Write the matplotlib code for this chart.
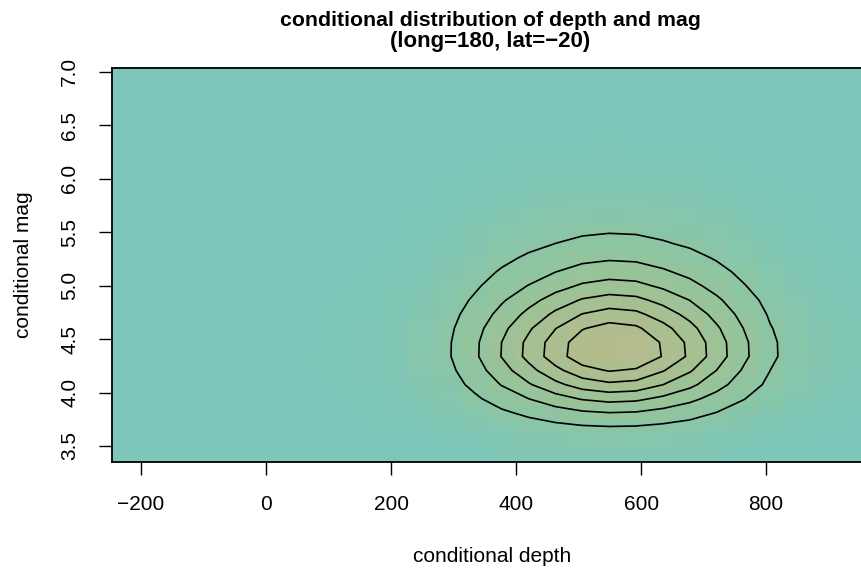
import matplotlib
matplotlib.use("Agg")
import matplotlib.pyplot as plt
import numpy as np
from matplotlib.colors import LinearSegmentedColormap
from matplotlib.ticker import FormatStrFormatter

plt.rcParams['font.family'] = ['Liberation Sans', 'DejaVu Sans']

# grid of the conditional density (cell centres)
depth_grid = [-225, -182, -139, -96, -53, -10, 33, 76, 119, 162, 205, 248, 291, 334,
              377, 420, 463, 506, 549, 592, 635, 678, 721, 764, 807, 850, 893, 936]
mag_grid = [3.416, 3.548, 3.679, 3.811, 3.942, 4.074, 4.206, 4.337, 4.469, 4.600,
            4.732, 4.864, 4.995, 5.127, 5.258, 5.390, 5.521, 5.653, 5.784, 5.916,
            6.048, 6.179, 6.311, 6.442, 6.574, 6.706, 6.837, 6.969]

# relative profiles (peak = 1)
depth_profile = [0, 0, 0, 0, 0, 0.001, 0.002, 0.004, 0.008, 0.015, 0.03, 0.06, 0.125, 0.255,
                 0.425, 0.60, 0.775, 0.925, 0.996, 0.963, 0.832, 0.675, 0.49, 0.31,
                 0.163, 0.08, 0.04, 0.02]
mag_profile = [0.03, 0.06, 0.135, 0.276, 0.46, 0.665, 0.84, 0.985, 0.975, 0.885,
               0.75, 0.61, 0.47, 0.355, 0.26, 0.18, 0.125, 0.085, 0.055, 0.035,
               0.02, 0.012, 0.007, 0.004, 0.002, 0.001, 0.0, 0.0]

peak_density = 0.0145
levels = [0.002, 0.004, 0.006, 0.008, 0.010, 0.012]

xticks = [-200, 0, 200, 400, 600, 800]
yticks = [3.5, 4.0, 4.5, 5.0, 5.5, 6.0, 6.5, 7.0]

dens = peak_density * np.outer(mag_profile, depth_profile)

cmap = LinearSegmentedColormap.from_list(
    'cond', [(0.0, '#7dc6b9'), (0.04, '#83c6b0'), (0.12, '#8bc5a5'),
             (0.3, '#95c49b'), (0.6, '#a5c092'), (1.0, '#b5bc8c')])

fig = plt.figure(figsize=(8.61, 5.71), dpi=100)
ax = fig.add_axes([112 / 861, 1 - 462 / 571, 752.5 / 861, 394 / 571])

ax.pcolormesh(depth_grid, mag_grid, dens, cmap=cmap, vmin=0, vmax=peak_density,
              shading='nearest')
ax.contour(depth_grid, mag_grid, dens, levels=levels, colors='black', linewidths=1.2)

dx = (depth_grid[1] - depth_grid[0]) / 2
dy = (mag_grid[1] - mag_grid[0]) / 2
ax.set_xlim(depth_grid[0] - dx, depth_grid[-1] + dx)
ax.set_ylim(mag_grid[0] - dy, mag_grid[-1] + dy)

ax.set_xticks(xticks)
ax.set_yticks(yticks)
ax.yaxis.set_major_formatter(FormatStrFormatter('%.1f'))
ax.tick_params(direction='out', length=9.5, width=1.0, labelsize=15, pad=14)
ax.tick_params(axis='y', labelrotation=90)
for lab in ax.get_yticklabels():
    lab.set_va('center')
for sp in ax.spines.values():
    sp.set_linewidth(1.3)

ax.set_xlabel('conditional depth', fontsize=15, va='center')
ax.xaxis.set_label_coords(0.505, -0.24)
ax.set_ylabel('conditional mag', fontsize=15, va='center')
ax.yaxis.set_label_coords(-0.118, 0.5)

fig.text(490 / 861, 1 - 20 / 571, 'conditional distribution of depth and mag',
         ha='center', va='center', fontsize=15.3, fontweight='bold')
fig.text(490 / 861, 1 - 42 / 571, '(long=180, lat=\u221220)',
         ha='center', va='center', fontsize=16.0, fontweight='bold')

fig.savefig('out.png', dpi=100)
